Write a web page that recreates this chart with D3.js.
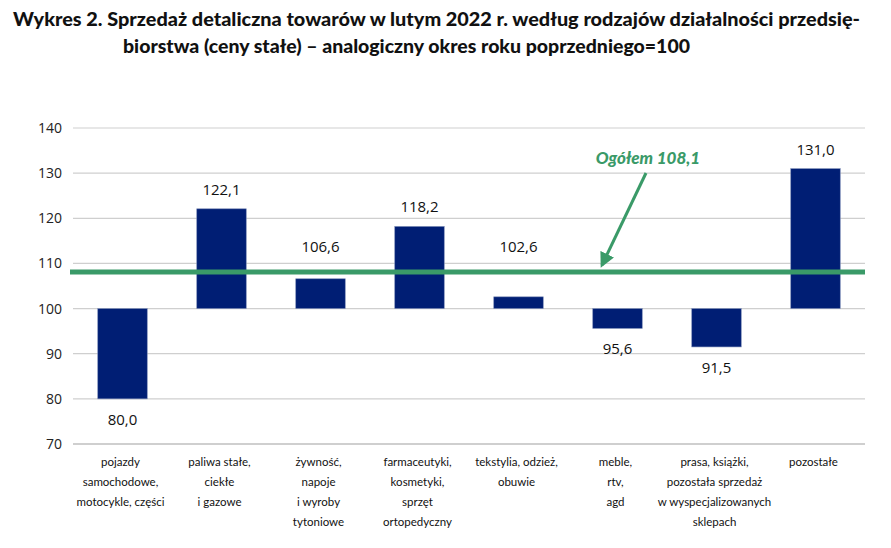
<!DOCTYPE html>
<html>
<head>
<meta charset="utf-8">
<script src="https://cdn.jsdelivr.net/npm/d3@7"></script>
<style>
body { margin: 0; background: #fff; }
text { font-family: "Noto Sans", sans-serif; }
</style>
</head>
<body>
<div id="chart"></div>
<script>
var categories = [
  ["pojazdy", "samochodowe,", "motocykle, części"],
  ["paliwa stałe,", "ciekłe", "i gazowe"],
  ["żywność,", "napoje", "i wyroby", "tytoniowe"],
  ["farmaceutyki,", "kosmetyki,", "sprzęt", "ortopedyczny"],
  ["tekstylia, odzież,", "obuwie"],
  ["meble,", "rtv,", "agd"],
  ["prasa, książki,", "pozostała sprzedaż", "w wyspecjalizowanych", "sklepach"],
  ["pozostałe"]
]
var values = [80.0, 122.1, 106.6, 118.2, 102.6, 95.6, 91.5, 131.0]
var total = 108.1
var yTicks = [70, 80, 90, 100, 110, 120, 130, 140]

var width = 891
var height = 548

var svg = d3.select("#chart")
    .append("svg")
    .attr("width", width)
    .attr("height", height)

// title
svg.append("text")
    .attr("x", 13)
    .attr("y", 26)
    .attr("textLength", 847)
    .attr("lengthAdjust", "spacingAndGlyphs")
    .style("font-family", "Lato")
    .style("font-weight", "900")
    .style("font-size", "18px")
    .style("fill", "#111")
    .text("Wykres 2. Sprzedaż detaliczna towarów w lutym 2022 r. według rodzajów działalności przedsię-")
svg.append("text")
    .attr("x", 123)
    .attr("y", 53)
    .attr("textLength", 567)
    .attr("lengthAdjust", "spacingAndGlyphs")
    .style("font-family", "Lato")
    .style("font-weight", "900")
    .style("font-size", "18px")
    .style("fill", "#111")
    .text("biorstwa (ceny stałe) – analogiczny okres roku poprzedniego=100")

var xScale = d3.scaleBand()
    .domain(d3.range(categories.length))
    .range([73, 865])
    .paddingInner(0.5)
    .paddingOuter(0.25)

var yScale = d3.scaleLinear()
    .domain([70, 140])
    .range([444, 128])

// gridlines
svg.append("g")
    .selectAll("line")
    .data(yTicks)
    .join("line")
    .attr("x1", 73)
    .attr("x2", 865)
    .attr("y1", function(d) { return yScale(d) })
    .attr("y2", function(d) { return yScale(d) })
    .attr("stroke", "#cfcfcf")
    .attr("stroke-width", function(d) { return d == 70 ? 2 : 1.2 })

var yAxis = d3.axisLeft(yScale)
    .tickValues(yTicks)
    .tickSize(0)
    .tickPadding(0)
svg.append("g")
    .attr("transform", "translate(62,0)")
    .call(yAxis)
    .call(function(g) { g.select(".domain").remove() })
    .selectAll("text")
    .style("font-family", "Open Sans")
    .style("font-size", "14px")
    .style("fill", "#222")

// bars
svg.append("g")
    .selectAll("rect")
    .data(values)
    .join("rect")
    .attr("x", function(d, i) { return xScale(i) })
    .attr("width", xScale.bandwidth())
    .attr("y", function(d) { return yScale(Math.max(d, 100)) })
    .attr("height", function(d) { return Math.abs(yScale(d) - yScale(100)) })
    .attr("fill", "#001e74")
    .attr("stroke", "#7f8fb8")
    .attr("stroke-width", 0.6)

// value labels (kept clear of the total line)
svg.append("g")
    .selectAll("text")
    .data(values)
    .join("text")
    .attr("x", function(d, i) { return xScale(i) + xScale.bandwidth() / 2 })
    .attr("y", function(d) {
        if (d < 100) return yScale(d) + 26
        return Math.min(yScale(d) - 14, yScale(total) - 20)
    })
    .attr("text-anchor", "middle")
    .style("font-family", "Open Sans")
    .style("font-size", "15px")
    .style("fill", "#111")
    .text(function(d) { return d.toFixed(1).replace(".", ",") })

// category labels
var cat = svg.append("g")
    .selectAll("text")
    .data(categories)
    .join("text")
    .attr("text-anchor", "middle")
    .style("font-family", "Lato")
    .style("font-size", "11.5px")
    .style("fill", "#111")
cat.selectAll("tspan")
    .data(function(d, i) { return d.map(function(s) { return { s: s, i: i } }) })
    .join("tspan")
    .attr("x", function(d) { return xScale(d.i) + xScale.bandwidth() / 2 - 2 })
    .attr("y", function(d, j) { return 466 + j * 20 })
    .text(function(d) { return d.s })

// total line
svg.append("line")
    .attr("x1", 70)
    .attr("x2", 865)
    .attr("y1", yScale(total))
    .attr("y2", yScale(total))
    .attr("stroke", "#3a9a68")
    .attr("stroke-width", 5)

// arrow
svg.append("defs").append("marker")
    .attr("id", "arrow")
    .attr("viewBox", "0 0 10 10")
    .attr("refX", 8)
    .attr("refY", 5)
    .attr("markerWidth", 5)
    .attr("markerHeight", 5)
    .attr("orient", "auto")
    .append("path")
    .attr("d", "M0,0 L10,5 L0,10 z")
    .attr("fill", "#3a9a68")

svg.append("line")
    .attr("x1", 646)
    .attr("y1", 173)
    .attr("x2", 602)
    .attr("y2", 265)
    .attr("stroke", "#3a9a68")
    .attr("stroke-width", 3)
    .attr("marker-end", "url(#arrow)")

svg.append("text")
    .attr("x", 648)
    .attr("y", 164)
    .attr("text-anchor", "middle")
    .style("font-family", "Lato")
    .style("font-weight", "900")
    .style("font-style", "italic")
    .style("font-size", "17px")
    .style("fill", "#3a9a68")
    .text("Ogółem " + total.toFixed(1).replace(".", ","))
</script>
</body>
</html>
